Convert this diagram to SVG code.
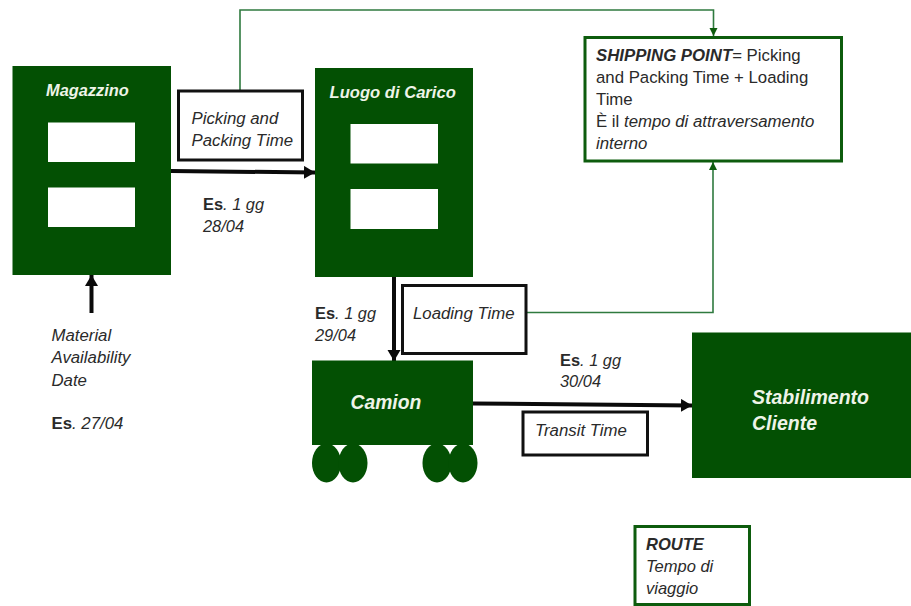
<svg xmlns="http://www.w3.org/2000/svg" width="911" height="606" viewBox="0 0 911 606">
<style>
.g{fill:#035003}
.w{fill:#fff}
.bb{fill:#fff;stroke:#111;stroke-width:3}
.gb{fill:#fff;stroke:#0d5c0d;stroke-width:3}
text{font-family:"Liberation Sans",Arial,sans-serif;font-size:16.800px;fill:#2a2a2a}
.i{font-style:italic}
.b{font-weight:bold}
.t{font-style:italic;font-weight:bold;fill:#eef4e8}
.k{fill:none;stroke:#0a0a0a;stroke-width:4}
.l{fill:none;stroke:#2f7a3f;stroke-width:1.600}
</style>
<defs>
<marker id="ak" markerUnits="userSpaceOnUse" markerWidth="12" markerHeight="14" refX="11" refY="6.500" orient="auto"><path d="M0 0L11 6.500L0 13z" fill="#0a0a0a"/></marker>
<marker id="ag" markerUnits="userSpaceOnUse" markerWidth="9" markerHeight="9" refX="8" refY="4" orient="auto"><path d="M0 0L8 4L0 8z" fill="#0d5c0d"/></marker>
</defs>
<g id="connectors">
<path class="l" d="M240 91V10H713.500V36" marker-end="url(#ag)"/>
<path class="l" d="M526 312.500H713V162" marker-end="url(#ag)"/>
<path class="k" d="M171 171L315 172.500" marker-end="url(#ak)"/>
<path class="k" d="M91.500 313V275" marker-end="url(#ak)"/>
<path class="k" d="M394 277V361" marker-end="url(#ak)"/>
<path class="k" d="M473 403.500L692 405.500" marker-end="url(#ak)"/>
</g>
<g id="magazzino">
<rect class="g" x="12.500" y="66" width="158.500" height="209"/>
<rect class="w" x="48" y="122.500" width="87" height="39.500"/>
<rect class="w" x="48" y="187.500" width="87" height="39.500"/>
<text class="t" x="46" y="96" style="font-size:16.400px">Magazzino</text>
</g>
<g id="luogo">
<rect class="g" x="315" y="68" width="158" height="209"/>
<rect class="w" x="350.500" y="124" width="87.500" height="39.500"/>
<rect class="w" x="350.500" y="189" width="87.500" height="40"/>
<text class="t" x="329.500" y="98" style="font-size:16.600px">Luogo di Carico</text>
</g>
<g id="picking">
<rect class="bb" x="178.500" y="91" width="124" height="69"/>
<text class="i"><tspan x="191.500" y="124">Picking and</tspan><tspan x="191.500" y="146">Packing Time</tspan></text>
</g>
<g id="es-28">
<text class="i" style="font-size:16.400px"><tspan x="203" y="210"><tspan class="b" font-style="normal">Es</tspan>. 1 gg</tspan><tspan x="203" y="232">28/04</tspan></text>
</g>
<g id="shipping">
<rect class="gb" x="585" y="37.500" width="256.500" height="123.500"/>
<text><tspan x="596" y="61"><tspan class="i b">SHIPPING POINT</tspan>= Picking</tspan><tspan x="596" y="83">and Packing Time + Loading</tspan><tspan x="596" y="105">Time</tspan><tspan x="596" y="127">È il <tspan class="i">tempo di attraversamento</tspan></tspan><tspan x="596" y="149" class="i">interno</tspan></text>
</g>
<g id="material">
<text class="i"><tspan x="51.500" y="341">Material</tspan><tspan x="51.500" y="363">Availability</tspan><tspan x="51.500" y="386">Date</tspan><tspan x="51.500" y="429"><tspan class="b" font-style="normal">Es</tspan>. 27/04</tspan></text>
</g>
<g id="es-29">
<text class="i" style="font-size:16.400px"><tspan x="315" y="319"><tspan class="b" font-style="normal">Es</tspan>. 1 gg</tspan><tspan x="315" y="341">29/04</tspan></text>
</g>
<g id="loading">
<rect class="bb" x="402.500" y="285.500" width="123.500" height="68"/>
<text class="i" x="413" y="319">Loading Time</text>
</g>
<g id="camion">
<ellipse class="g" cx="326.500" cy="463" rx="14.500" ry="19.500"/>
<ellipse class="g" cx="353" cy="463" rx="14.500" ry="19.500"/>
<ellipse class="g" cx="437" cy="463" rx="14.500" ry="19.500"/>
<ellipse class="g" cx="463" cy="463" rx="14.500" ry="19.500"/>
<rect class="g" x="312" y="360.500" width="161" height="84.500"/>
<text class="t" x="350.500" y="409" style="font-size:19.300px">Camion</text>
</g>
<g id="es-30">
<text class="i" style="font-size:16.400px"><tspan x="560" y="366"><tspan class="b" font-style="normal">Es</tspan>. 1 gg</tspan><tspan x="560" y="387">30/04</tspan></text>
</g>
<g id="transit">
<rect class="bb" x="523" y="412" width="124.500" height="43"/>
<text class="i" x="535" y="436">Transit Time</text>
</g>
<g id="stabilimento">
<rect class="g" x="692" y="332.500" width="219" height="145.500"/>
<text class="t" style="font-size:19.500px"><tspan x="752" y="404">Stabilimento</tspan><tspan x="752" y="430">Cliente</tspan></text>
</g>
<g id="route">
<rect class="gb" x="635" y="526.500" width="114.500" height="78"/>
<text style="font-size:16.500px"><tspan x="646" y="550" class="i b">ROUTE</tspan><tspan x="646" y="572" class="i">Tempo di</tspan><tspan x="646" y="594" class="i">viaggio</tspan></text>
</g>
</svg>
